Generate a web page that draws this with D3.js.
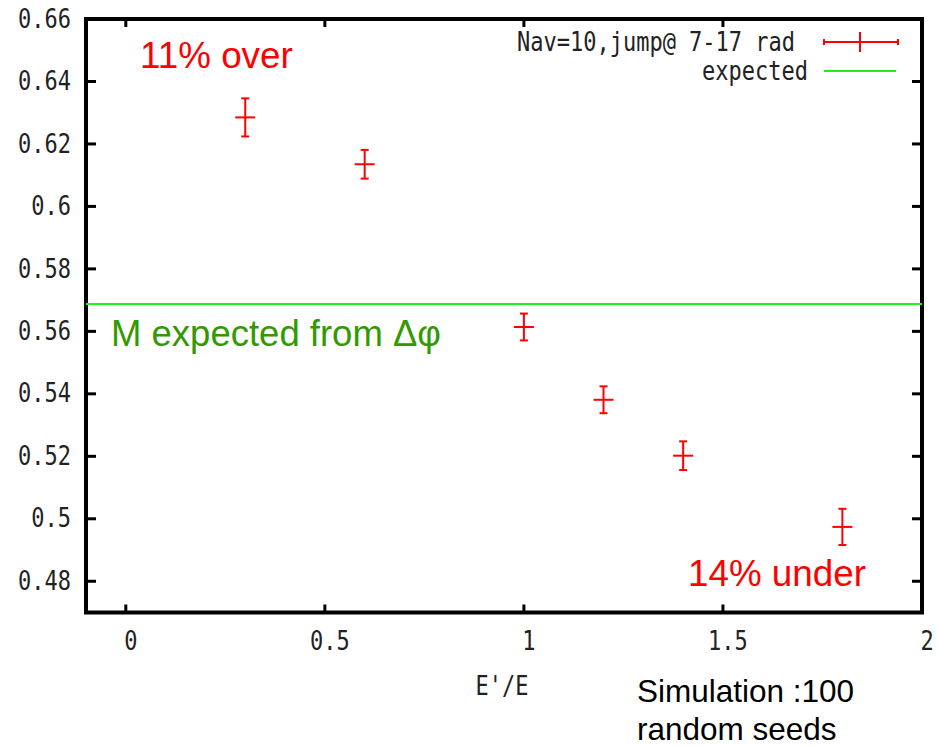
<!DOCTYPE html>
<html><head><meta charset="utf-8">
<script src="https://cdn.jsdelivr.net/npm/d3@7"></script>
<style>
body{margin:0;background:#fff;}
svg{display:block;}
.mono{font-family:"DejaVu Sans Mono","Liberation Mono",monospace;font-size:22px;fill:#222;}
.ann{font-family:"Liberation Sans",Arial,sans-serif;}
</style></head>
<body>
<script>
// Data
const xVals = [0.3, 0.6, 1.0, 1.2, 1.4, 1.8];
const yVals = [0.6285, 0.6135, 0.5614, 0.5381, 0.5202, 0.4974];
const yErr  = [0.0061, 0.0046, 0.0043, 0.0043, 0.0046, 0.0058];
const expectedValue = 0.5688;
const xTicks = [0, 0.5, 1, 1.5, 2];
const xTickLabels = ["0", "0.5", "1", "1.5", "2"];
const yTicks = [0.48, 0.5, 0.52, 0.54, 0.56, 0.58, 0.6, 0.62, 0.64, 0.66];
const yTickLabels = ["0.48", "0.5", "0.52", "0.54", "0.56", "0.58", "0.6", "0.62", "0.64", "0.66"];
const legendLabels = ["Nav=10,jump@ 7-17 rad", "expected"];

const W = 938, H = 747;
const L = 86, R = 922, T = 19, B = 612.5;
const svg = d3.select("body").append("svg").attr("width", W).attr("height", H);

const x = d3.scaleLinear().domain([-0.1, 2]).range([L, R]);
const y = d3.scaleLinear().domain([0.47, 0.66]).range([B, T]);

const red = "#ff0000", green = "#22ee22";

function mono(px, py, anchor, txt) {
  svg.append("text").attr("class", "mono")
    .attr("transform", `translate(${px},${py}) scale(1,1.18)`)
    .attr("text-anchor", anchor).attr("dominant-baseline", "central").text(txt);
}

// Ticks (inward, mirrored)
const tickG = svg.append("g").attr("stroke", "#000").attr("stroke-width", 3);
yTicks.forEach(v => {
  tickG.append("line").attr("x1", L).attr("x2", L + 10).attr("y1", y(v)).attr("y2", y(v));
  tickG.append("line").attr("x1", R).attr("x2", R - 10).attr("y1", y(v)).attr("y2", y(v));
});
xTicks.forEach(v => {
  tickG.append("line").attr("x1", x(v)).attr("x2", x(v)).attr("y1", B).attr("y2", B - 8);
  tickG.append("line").attr("x1", x(v)).attr("x2", x(v)).attr("y1", T).attr("y2", T + 8);
});

// Frame
svg.append("rect").attr("x", L).attr("y", T).attr("width", R - L).attr("height", B - T)
  .attr("fill", "none").attr("stroke", "#000").attr("stroke-width", 4);

// Tick labels
yTicks.forEach((v, i) => mono(71, y(v), "end", yTickLabels[i]));
xTicks.forEach((v, i) => mono(x(v) + 5, 641, "middle", xTickLabels[i]));
mono(502, 686, "middle", "E'/E");

// Expected line
svg.append("line").attr("x1", L).attr("x2", R).attr("y1", y(expectedValue)).attr("y2", y(expectedValue))
  .attr("stroke", green).attr("stroke-width", 2);

// Error bars
const eb = svg.append("g").attr("stroke", red).attr("stroke-width", 2).attr("fill", "none");
xVals.forEach((xv, i) => {
  const cx = x(xv), cy = y(yVals[i]), y0 = y(yVals[i] - yErr[i]), y1 = y(yVals[i] + yErr[i]);
  eb.append("line").attr("x1", cx).attr("x2", cx).attr("y1", y0).attr("y2", y1);
  eb.append("line").attr("x1", cx - 4).attr("x2", cx + 4).attr("y1", y0).attr("y2", y0);
  eb.append("line").attr("x1", cx - 4).attr("x2", cx + 4).attr("y1", y1).attr("y2", y1);
  eb.append("line").attr("x1", cx - 10).attr("x2", cx + 10).attr("y1", cy).attr("y2", cy);
});

// Legend
mono(795, 42, "end", legendLabels[0]);
mono(808, 71, "end", legendLabels[1]);
const lg = svg.append("g").attr("stroke", red).attr("stroke-width", 2);
lg.append("line").attr("x1", 824).attr("x2", 898).attr("y1", 42).attr("y2", 42);
lg.append("line").attr("x1", 824).attr("x2", 824).attr("y1", 39).attr("y2", 45);
lg.append("line").attr("x1", 898).attr("x2", 898).attr("y1", 39).attr("y2", 45);
lg.append("line").attr("x1", 860).attr("x2", 860).attr("y1", 32).attr("y2", 52);
svg.append("line").attr("x1", 824).attr("x2", 896).attr("y1", 71).attr("y2", 71)
  .attr("stroke", green).attr("stroke-width", 2);

// Annotations
svg.append("text").attr("class", "ann").attr("x", 140).attr("y", 67.5)
  .attr("font-size", 36.8).attr("fill", red).text("11% over");
svg.append("text").attr("class", "ann").attr("x", 111).attr("y", 345.5)
  .attr("font-size", 36.5).attr("fill", "#339900").text("M expected from Δφ");
svg.append("text").attr("class", "ann").attr("x", 688).attr("y", 585.5)
  .attr("font-size", 36.8).attr("fill", red).text("14% under");
svg.append("text").attr("class", "ann").attr("x", 637).attr("y", 702)
  .attr("font-size", 31.5).attr("fill", "#000").text("Simulation :100");
svg.append("text").attr("class", "ann").attr("x", 637).attr("y", 740)
  .attr("font-size", 31.5).attr("fill", "#000").text("random seeds");
</script>
</body></html>
